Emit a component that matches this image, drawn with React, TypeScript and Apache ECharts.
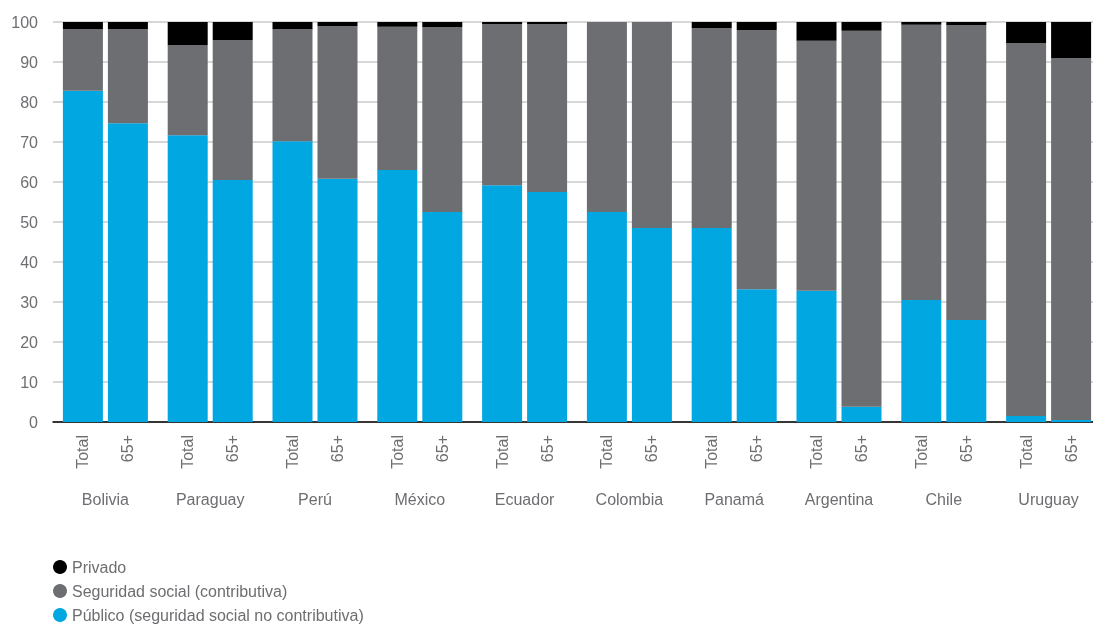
import React, { useEffect, useRef } from "react";
import * as echarts from "echarts";

const countries = ["Bolivia", "Paraguay", "Perú", "México", "Ecuador", "Colombia", "Panamá", "Argentina", "Chile", "Uruguay"];
const yTicks = [0, 10, 20, 30, 40, 50, 60, 70, 80, 90, 100];
const legendNames = ["Privado", "Seguridad social (contributiva)", "Público (seguridad social no contributiva)"];

// Total population
const publicoTotal = [82.8, 71.7, 70.2, 63.0, 59.2, 52.5, 48.5, 32.8, 30.5, 1.5];
const seguridadTotal = [15.4, 22.5, 28.0, 35.8, 40.3, 47.5, 50.0, 62.5, 68.8, 93.2];
const privadoTotal = [1.8, 5.8, 1.8, 1.2, 0.5, 0, 1.5, 4.7, 0.7, 5.3];

// 65+ population
const publico65 = [74.7, 60.5, 60.8, 52.5, 57.5, 48.5, 33.2, 3.8, 25.5, 0.5];
const seguridad65 = [23.5, 35.0, 38.2, 46.2, 42.0, 51.5, 64.8, 94.0, 73.7, 90.5];
const privado65 = [1.8, 4.5, 1.0, 1.3, 0.5, 0, 2.0, 2.2, 0.8, 9.0];

const BLUE = "#00a7e1";
const GRAY = "#6d6e71";
const BLACK = "#000000";
const TEXT = "#6d6e71";
const FONT = "'Liberation Sans', Arial, sans-serif";

export default function App() {
  const ref = useRef<HTMLDivElement>(null);
  useEffect(() => {
    if (!ref.current) return;
    const chart = echarts.init(ref.current, undefined, { renderer: "svg" });
    const bottomLabel = (txt: string) => ({
      show: true,
      position: ["50%", "100%"],
      rotate: 90,
      align: "right",
      verticalAlign: "middle",
      padding: [0, 13, 0, 0],
      formatter: txt,
      color: TEXT,
      fontSize: 16,
      fontFamily: FONT,
    });
    const mk = (name: string, stack: string, data: number[], color: string, label?: any) => ({
      name,
      type: "bar",
      stack,
      data,
      barWidth: 40,
      barGap: "12.5%",
      itemStyle: { color },
      label: label || { show: false },
      emphasis: { disabled: true },
    });
    chart.setOption({
      animation: false,
      textStyle: { fontFamily: FONT },
      grid: { left: 53, right: 0, top: 22, bottom: 202, containLabel: false },
      legend: {
        data: legendNames.map((n, i) => ({ name: n, itemStyle: { color: [BLACK, GRAY, BLUE][i] } })),
        orient: "vertical",
        left: 53,
        top: 559,
        height: 90,
        padding: 0,
        icon: "circle",
        itemWidth: 14,
        itemHeight: 14,
        itemGap: 8,
        selectedMode: false,
        textStyle: { fontSize: 16, color: TEXT, fontFamily: FONT },
      },
      xAxis: {
        type: "category",
        data: countries,
        axisLine: { lineStyle: { color: "#000", width: 1.5 } },
        axisTick: { show: false },
        axisLabel: { margin: 69, fontSize: 16, color: TEXT, fontFamily: FONT },
      },
      yAxis: {
        type: "value",
        min: yTicks[0],
        max: yTicks[yTicks.length - 1],
        interval: 10,
        axisLine: { show: false },
        axisTick: { show: false },
        axisLabel: { margin: 15, fontSize: 16, color: TEXT, fontFamily: FONT },
        splitLine: { lineStyle: { color: "#cacaca", width: 1.5 } },
      },
      series: [
        mk(legendNames[2], "total", publicoTotal, BLUE, bottomLabel("Total")),
        mk(legendNames[1], "total", seguridadTotal, GRAY),
        mk(legendNames[0], "total", privadoTotal, BLACK),
        mk(legendNames[2], "old", publico65, BLUE, bottomLabel("65+")),
        mk(legendNames[1], "old", seguridad65, GRAY),
        mk(legendNames[0], "old", privado65, BLACK),
      ],
    });
    return () => chart.dispose();
  }, []);
  return <div ref={ref} style={{ position: "fixed", left: 0, top: 0, width: 1101, height: 624 }} />;
}
